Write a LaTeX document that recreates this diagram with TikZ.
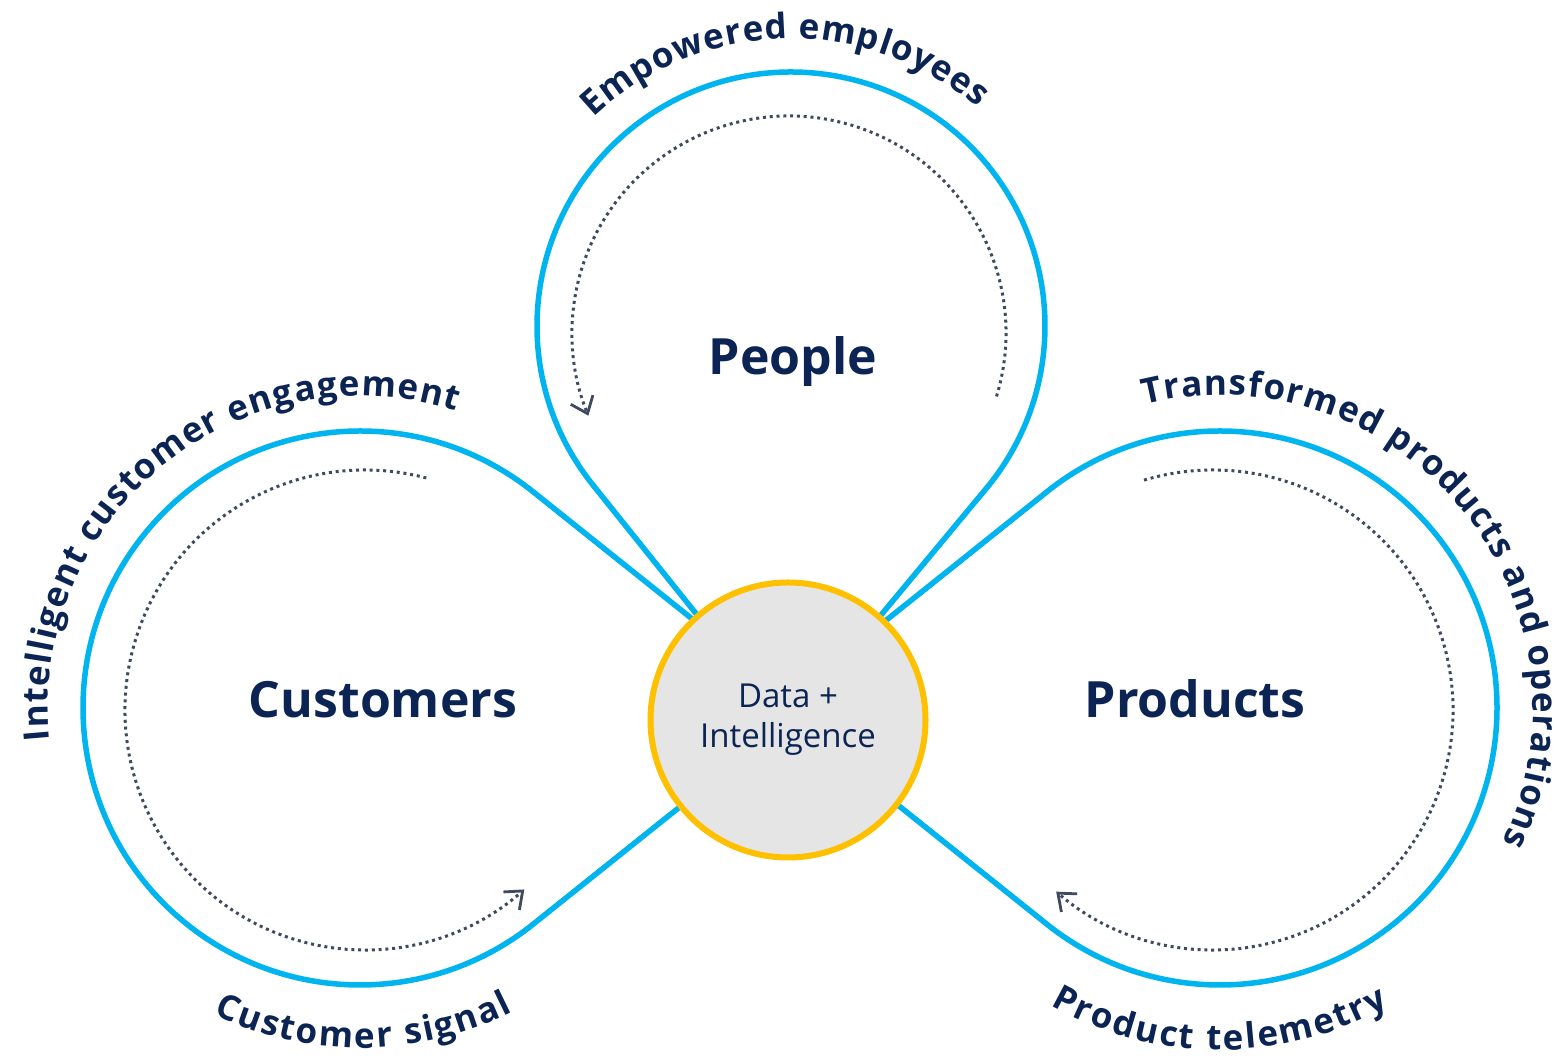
\documentclass[tikz,border=0pt]{standalone}
\usepackage{fontspec}
\setmainfont{Open Sans}
\usetikzlibrary{decorations.text,arrows.meta,calc}
\definecolor{loopblue}{HTML}{00B4EF}
\definecolor{navy}{HTML}{0B2453}
\definecolor{dotgray}{HTML}{3F4A60}
\definecolor{hubgold}{HTML}{FFC000}
\definecolor{hubfill}{HTML}{E5E5E5}
\newcommand\lblfont{\fontsize{35}{42}\selectfont\bfseries\color{navy}}
\begin{document}
\begin{tikzpicture}[x=1pt,y=1pt,
  loopline/.style={draw=loopblue, line width=5.5pt, line join=round},
  cyclearrow/.style={draw=dotgray, line width=3pt, line cap=butt,
     dash pattern=on 3pt off 3.8pt,
     -{Straight Barb[length=15pt,width=24pt,line width=2.8pt]}},
  biglabel/.style={text=navy, font=\fontsize{50}{60}\selectfont\bfseries, anchor=base, inner sep=0pt},
  arclabel/.style={decorate, decoration={text along path, text align={fit to path}, text={|\lblfont|#1}}}
]
\useasboundingbox (0,0) rectangle (1558,1056);

% centres
\coordinate (cL) at (360,348);
\coordinate (cR) at (1220,348);
\coordinate (cP) at (791,730);
\coordinate (hubc) at (788,336);
\coordinate (cLd) at (365,346);
\coordinate (cRd) at (1213,346);
\coordinate (cPd) at (789,723);
% leg ends (hidden under the hub)
\coordinate (Lup) at (730,406.8);
\coordinate (Llo) at (730,289.2);
\coordinate (Rup) at (850,406.8);
\coordinate (Rlo) at (850,289.2);
\coordinate (Pl) at (746,380);
\coordinate (Pr) at (832,382);

% blue loops
\draw[loopline] (Lup) -- ([shift={(51.3:277)}]cL) arc[start angle=51.3, end angle=308.7, radius=277] -- (Llo);
\draw[loopline] (Rup) -- ([shift={(128.7:277)}]cR) arc[start angle=128.7, end angle=-128.7, radius=277] -- (Rlo);
\draw[loopline] (Pl) -- ([shift={(218.7:254)}]cP) arc[start angle=218.7, end angle=-39.9, radius=254] -- (Pr);

% dotted cycle arrows
\draw[cyclearrow] ([shift={(75.2:240)}]cLd) arc[start angle=75.2, end angle=311.6, radius=240];
\draw[cyclearrow] ([shift={(-17:217)}]cPd) arc[start angle=-17, end angle=202.4, radius=217];
\draw[cyclearrow] ([shift={(106.7:240)}]cRd) arc[start angle=106.7, end angle=-130.8, radius=240];

% hub
\node[circle, minimum size=275pt, inner sep=0pt, fill=hubfill, draw=hubgold, line width=6pt,
      align=center, text=navy, font=\fontsize{33}{40}\selectfont] (hub) at (hubc) {Data +\\Intelligence};

% main labels
\node[biglabel] (people) at (793,681) {People};
\node[biglabel] (customers) at (383,338) {Customers};
\node[biglabel] (products) at (1195,338) {Products};

% curved labels
\path[arclabel={Empowered employees}] ([shift={(133.5:287)}]cP) arc[start angle=133.5, end angle=49.5, radius=287];
\path[arclabel={Intelligent customer engagement}] ([shift={(186:312)}]cL) arc[start angle=186, end angle=72, radius=312];
\path[arclabel={Transformed products and operations}] ([shift={(104:313)}]cR) arc[start angle=104, end angle=-25.5, radius=313];
\path[arclabel={Customer signal}] ([shift={(-115.6:340)}]cL) arc[start angle=-115.6, end angle=-63.2, radius=340];
\path[arclabel={Product telemetry}] ([shift={(-119.7:342)}]cR) arc[start angle=-119.7, end angle=-60.5, radius=342];
\end{tikzpicture}
\end{document}
